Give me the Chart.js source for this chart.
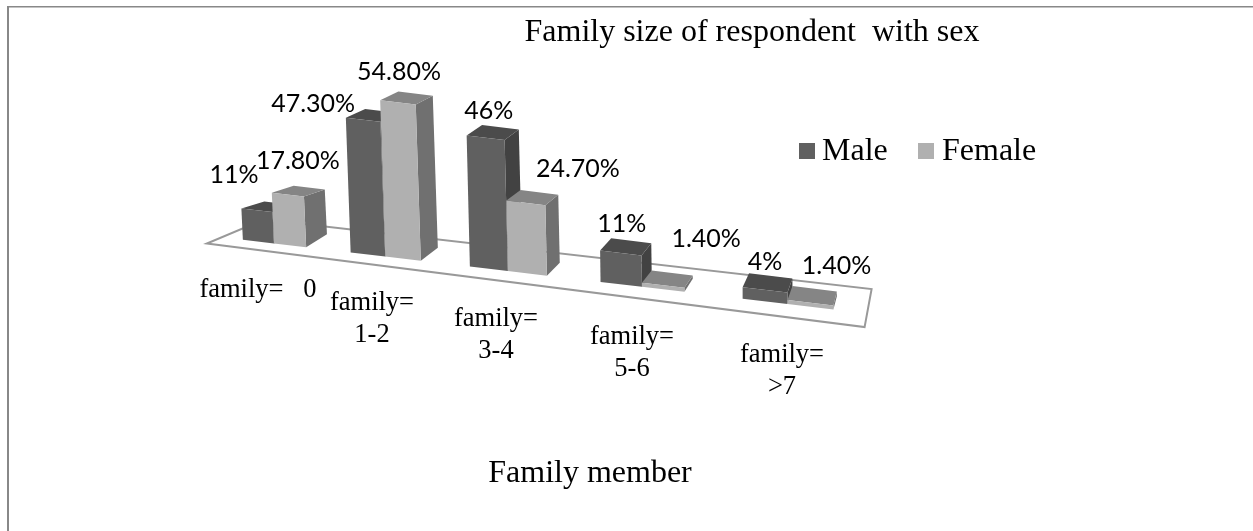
<!DOCTYPE html>
<html>
<head>
<meta charset="utf-8">
<style>
  html, body { margin: 0; padding: 0; background: #fff; overflow: hidden; }
  canvas { display: block; }
</style>
<script src="https://cdn.jsdelivr.net/npm/chart.js@4/dist/chart.umd.min.js"></script>
</head>
<body>
<canvas id="familyChart" width="1253" height="531"></canvas>
<script>
const categories = [["family=   0"], ["family=", "1-2"], ["family=", "3-4"], ["family=", "5-6"], ["family=", ">7"]];
const maleValues = [11, 47.3, 46, 11, 4];
const femaleValues = [17.8, 54.8, 24.7, 1.4, 1.4];
const maleLabels = ["11%", "47.30%", "46%", "11%", "4%"];
const femaleLabels = ["17.80%", "54.80%", "24.70%", "1.40%", "1.40%"];
const chartTitle = "Family size of respondent  with sex";
const axisTitle = "Family member";

// hand placement of the labels, measured from the top of each bar
const maleNudge = [[-23, -35], [-50, -16], [3, -27], [1, -29], [0, -28]];
const femaleNudge = [[10, -34], [1, -31], [52, -34], [43, -46], [26, -37]];
const tickSpots = [[258, 290], [372, 303], [496, 319], [632, 337], [782, 355]];

const serif = '"Liberation Serif", "Times New Roman", serif';
const maleFaces = { front: "#606060", top: "#4b4b4b", side: "#424242" };
const femaleFaces = { front: "#b0b0b0", top: "#858585", side: "#707070" };

// the flat chart is reprojected onto a floor that runs downhill to the right
const screenX = (u) => 274 + 105.5 * u + 5.72 * u * u;
const floorY = (x) => 240 + 0.118 * (x - 245);
const lean = (u) => Math.max(0, 0.045 - 0.011 * u);
const depthX = (x) => 21 - 0.033 * (x - 300);

function fillQuad(ctx, pts, color) {
  ctx.beginPath();
  pts.forEach((p, i) => (i ? ctx.lineTo(p[0], p[1]) : ctx.moveTo(p[0], p[1])));
  ctx.closePath();
  ctx.fillStyle = color;
  ctx.fill();
}

function drawBar(ctx, bar, area, catWidth, faces) {
  const u = (bar.x - area.left) / catWidth - 0.5;
  const half = bar.width / 2 / catWidth;
  const xl = screenX(u - half);
  const xr = screenX(u + half);
  const h = bar.base - bar.y;
  const tilt = lean(u) * h;
  const bl = [xl, floorY(xl)];
  const br = [xr, floorY(xr)];
  const tl = [xl - tilt, bl[1] - h];
  const tr = [xr - tilt, br[1] - h];
  const topDy = -(7 + 1.75 * Math.round(u));
  const dxl = depthX(xl);
  const dxr = depthX(xr);
  fillQuad(ctx, [br, tr, [tr[0] + dxr, tr[1] + topDy], [br[0] + dxr, br[1] - 13]], faces.side);
  fillQuad(ctx, [tl, tr, [tr[0] + dxr, tr[1] + topDy], [tl[0] + dxl, tl[1] + topDy]], faces.top);
  fillQuad(ctx, [bl, br, tr, tl], faces.front);
  return [(tl[0] + tr[0]) / 2, (tl[1] + tr[1]) / 2];
}

const skewedBars = {
  id: "skewedBars",
  beforeDatasetsDraw(chart) {
    const { ctx, chartArea: area } = chart;
    const catWidth = (area.right - area.left) / categories.length;
    const males = chart.getDatasetMeta(0).data;
    const females = chart.getDatasetMeta(1).data;

    // page frame, top and left only
    ctx.save();
    ctx.fillStyle = "#888888";
    ctx.fillRect(7, 6, chart.width - 7, 1.5);
    ctx.fillRect(7, 6, 2, chart.height - 6);

    // floor
    const fl = screenX(-0.66);
    const fr = screenX(4.5);
    ctx.beginPath();
    ctx.moveTo(fl, floorY(fl) + 8);
    ctx.lineTo(fr, floorY(fr) + 14);
    ctx.lineTo(fr + 7, floorY(fr) - 24);
    ctx.lineTo(fl + 57, floorY(fl) - 16);
    ctx.closePath();
    ctx.strokeStyle = "#999999";
    ctx.lineWidth = 2;
    ctx.stroke();

    // bars, then labels on top
    const tops = categories.map((_, i) => [
      drawBar(ctx, males[i], area, catWidth, maleFaces),
      drawBar(ctx, females[i], area, catWidth, femaleFaces),
    ]);

    ctx.textAlign = "center";
    ctx.textBaseline = "middle";
    ctx.fillStyle = "#000";
    ctx.font = '25px Lato, sans-serif';
    categories.forEach((_, i) => {
      ctx.fillText(maleLabels[i], tops[i][0][0] + maleNudge[i][0], tops[i][0][1] + maleNudge[i][1]);
      ctx.fillText(femaleLabels[i], tops[i][1][0] + femaleNudge[i][0], tops[i][1][1] + femaleNudge[i][1]);
    });

    // category labels
    ctx.font = `26.5px ${serif}`;
    categories.forEach((lines, i) => {
      lines.forEach((line, j) => ctx.fillText(line, tickSpots[i][0], tickSpots[i][1] + j * 32));
    });

    // titles
    ctx.font = `32px ${serif}`;
    ctx.fillText(chartTitle, 752, 33);
    ctx.fillText(axisTitle, 590, 474);

    // legend
    ctx.textAlign = "left";
    ctx.font = `32px ${serif}`;
    ctx.fillStyle = maleFaces.front;
    ctx.fillRect(799, 143, 16, 16);
    ctx.fillStyle = femaleFaces.front;
    ctx.fillRect(918, 143, 16, 16);
    ctx.fillStyle = "#000";
    ctx.fillText(chart.data.datasets[0].label, 822, 152);
    ctx.fillText(chart.data.datasets[1].label, 942, 152);
    ctx.restore();
    return false;
  },
};

new Chart(document.getElementById("familyChart"), {
  type: "bar",
  data: {
    labels: categories,
    datasets: [
      { label: "Male", data: maleValues, backgroundColor: maleFaces.front },
      { label: "Female", data: femaleValues, backgroundColor: femaleFaces.front },
    ],
  },
  options: {
    responsive: false,
    animation: false,
    events: [],
    categoryPercentage: 0.6,
    barPercentage: 1,
    layout: { padding: { left: 200, right: 370, top: 100, bottom: 260 } },
    plugins: {
      legend: { display: false },
      title: { display: false },
      tooltip: { enabled: false },
    },
    scales: {
      x: { display: false },
      y: { display: false, min: 0, max: 60 },
    },
  },
  plugins: [skewedBars],
});
</script>
</body>
</html>
